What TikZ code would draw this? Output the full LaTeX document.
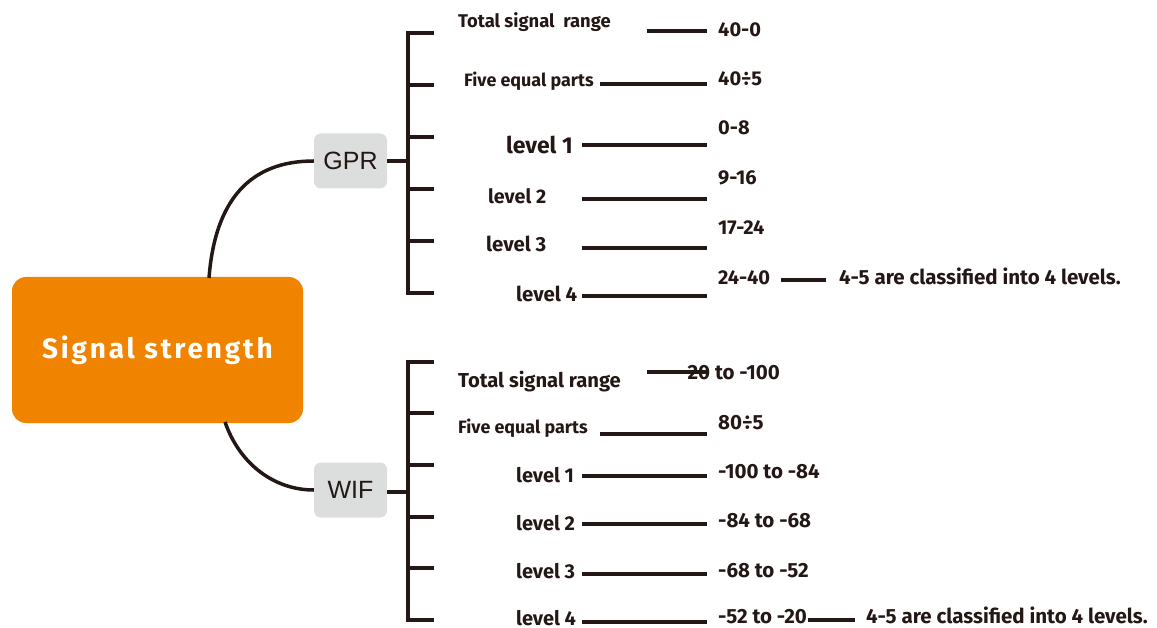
\documentclass[tikz,border=0pt]{standalone}
\usepackage{fontspec}
\setmainfont{Fira Sans}
\newfontfamily\armfont{Liberation Sans}
\newfontfamily\rootfont[LetterSpace=10]{Fira Sans}
\usepackage{xcolor}
\usetikzlibrary{positioning}
\definecolor{rootorange}{HTML}{F08300}
\definecolor{branchgray}{HTML}{DCDDDD}
\definecolor{inkdark}{HTML}{231815}

\begin{document}
\begin{tikzpicture}[
    x=1pt, y=-1pt,
    root/.style={rectangle, rounded corners=14pt, fill=rootorange, minimum width=291pt, minimum height=146pt, text=white, font=\rootfont\bfseries\fontsize{28}{30}\selectfont},
    branch/.style={rectangle, rounded corners=7pt, fill=branchgray, minimum width=73pt, minimum height=55pt, inner sep=0pt, text=inkdark, font=\armfont\fontsize{25}{27}\selectfont},
    lbl/.style={anchor=base west, inner sep=0pt, text=inkdark, font=\bfseries\fontsize{#1}{#1}\selectfont},
    bar/.style={draw=inkdark, line width=4pt},
    link/.style={draw=inkdark, line width=3.5pt}
]
  \useasboundingbox (0,0) rectangle (1157,628);

  % Central topic and the two branches
  \node[root] (root) at (157.5,350) {Signal strength};
  \node[branch] (gpr) at (350.5,161) {GPR};
  \node[branch] (wif) at (350.5,490) {WIF};

  \coordinate (rootup) at (209,278);
  \coordinate (rootdown) at (225,422);
  \draw[link] (rootup) .. controls (215,200) and (250,161) .. (gpr.west);
  \draw[link] (rootdown) .. controls (240,465) and (275,490) .. (wif.west);

  % GPR bracket
  \coordinate (gprfork) at (408,161);
  \draw[bar] (gpr.east) -- (gprfork);
  \draw[bar] (408,31) -- (408,295);
  \foreach \ty in {33,85,137,189,241,293}
    \draw[bar] (406,\ty) -- (434,\ty);

  % GPR rows
  \node[lbl=18.4] (gtot)  at (458,28)  {Total signal\ \ range};
  \node[lbl=17.9] (gfive) at (464,87)  {Five equal parts};
  \node[lbl=23]   (gl1)   at (506,154) {level 1};
  \node[lbl=19.7] (gl2)   at (488,204) {level 2};
  \node[lbl=20.4] (gl3)   at (486,252) {level 3};
  \node[lbl=20.4] (gl4)   at (516,302) {level 4};

  \node[lbl=20] (gv0) at (718,37)  {40-0};
  \node[lbl=20] (gv5) at (718,86)  {40÷5};
  \node[lbl=20] (gv1) at (718,135) {0-8};
  \node[lbl=20] (gv2) at (718,185) {9-16};
  \node[lbl=20] (gv3) at (718,235) {17-24};
  \node[lbl=20] (gv4) at (718,285) {24-40};
  \node[lbl=20.5] (gnote) at (839,285) {4-5 are classified into 4 levels.};

  \draw[bar] (647,31) -- (707,31);
  \draw[bar] (600,84) -- (707,84);
  \draw[bar] (582,145) -- (707,145);
  \draw[bar] (582,199) -- (707,199);
  \draw[bar] (582,248) -- (707,248);
  \draw[bar] (582,296) -- (707,296);
  \draw[bar] (781,280) -- (826,280);

  % WIF bracket
  \coordinate (wiffork) at (408,492);
  \draw[bar] (wif.east |- wiffork) -- (wiffork);
  \draw[bar] (408,360) -- (408,622);
  \foreach \ty in {362,413,465,517,568,620}
    \draw[bar] (406,\ty) -- (434,\ty);

  % WIF rows
  \node[lbl=20.2] (wtot)  at (458,388) {Total signal range};
  \node[lbl=17.9] (wfive) at (458,433) {Five equal parts};
  \node[lbl=20]   (wl1)   at (516,482) {level 1};
  \node[lbl=20]   (wl2)   at (516,530) {level 2};
  \node[lbl=20]   (wl3)   at (516,578) {level 3};
  \node[lbl=20]   (wl4)   at (516,625) {level 4};

  \node[lbl=20.5] (wv0) at (680,380) {-20 to -100};
  \node[lbl=20.5] (wv5) at (718,429) {80÷5};
  \node[lbl=20.5] (wv1) at (718,478) {-100 to -84};
  \node[lbl=20.5] (wv2) at (718,527) {-84 to -68};
  \node[lbl=20.5] (wv3) at (718,577) {-68 to -52};
  \node[lbl=20.5] (wv4) at (718,623) {-52 to -20};
  \node[lbl=20.5] (wnote) at (866,623) {4-5 are classified into 4 levels.};

  \draw[bar] (647,372) -- (708,372);
  \draw[bar] (600,434) -- (707,434);
  \draw[bar] (582,476) -- (707,476);
  \draw[bar] (582,524) -- (707,524);
  \draw[bar] (582,574) -- (707,574);
  \draw[bar] (582,622) -- (707,622);
  \draw[bar] (808,620) -- (855,620);
\end{tikzpicture}
\end{document}
